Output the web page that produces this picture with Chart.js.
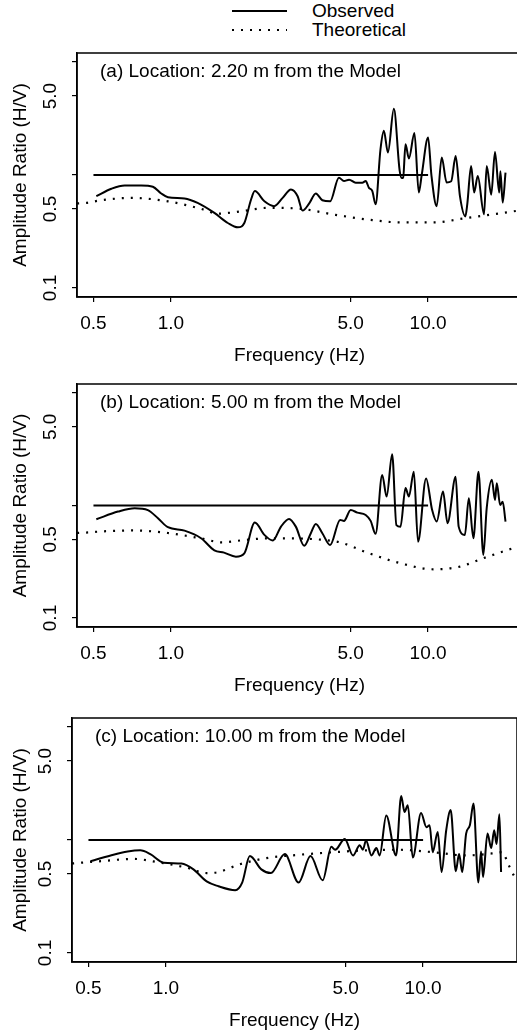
<!DOCTYPE html>
<html>
<head>
<meta charset="utf-8">
<script src="https://cdn.jsdelivr.net/npm/chart.js@4.4.0/dist/chart.umd.min.js"></script>
<style>
  html, body { margin: 0; padding: 0; background: #fff; overflow: hidden; width: 517px; height: 1031px; }
  .panel { position: absolute; left: 0; }
  #legend { position: absolute; left: 0; top: 0; }
  #legend text { font-family: 'Liberation Sans', Arial, Helvetica, sans-serif; font-size: 19px; fill: #000; }
</style>
</head>
<body>
<svg id="legend" width="517" height="45">
  <line x1="232" y1="11" x2="287" y2="11" stroke="#000" stroke-width="1.8"/>
  <line x1="232" y1="30" x2="287" y2="30" stroke="#000" stroke-width="2" stroke-dasharray="2 7"/>
  <text x="312" y="17">Observed</text>
  <text x="312" y="36">Theoretical</text>
</svg>
<canvas class="panel" id="chartA" width="530" height="330" style="top:40px"></canvas>
<canvas class="panel" id="chartB" width="530" height="330" style="top:370px"></canvas>
<canvas class="panel" id="chartC" width="530" height="330" style="top:705px"></canvas>
<script>
// axes
const xTickValues = [0.5, 1, 5, 10];
const xTickLabels = ['0.5', '1.0', '5.0', '10.0'];
const yTickValues = [0.1, 0.5, 1, 5, 10];
const yTickLabels = ['0.1', '0.5', '', '5.0', ''];

// reference level (H/V = 1)
const refFreq = [0.5, 10];
const refAmp = [1.0, 1.0];

// (a) 2.20 m
const obsFreqA = [0.513, 0.587, 0.661, 0.767, 0.851, 0.917, 0.974, 1.13, 1.27, 1.476, 1.665, 1.82, 1.93, 2.05, 2.12, 2.31, 2.52, 2.72, 2.93, 3.11, 3.25, 3.45, 3.66, 3.88, 4.16, 4.5, 4.71, 4.93, 5.23, 5.55, 5.72, 5.89, 6.07, 6.25, 6.53, 6.73, 6.98, 7.36, 7.75, 7.9, 8.0, 8.17, 8.42, 8.85, 9.2, 9.45, 10.0, 10.3, 10.8, 11.3, 11.8, 12.3, 12.8, 13.3, 13.96, 14.2, 14.7, 15.1, 15.6, 16.5, 16.9, 17.6, 18.2, 18.9, 19.1, 19.5, 20.0];
const obsAmpA  = [0.649, 0.755, 0.808, 0.808, 0.787, 0.686, 0.636, 0.62, 0.567, 0.462, 0.376, 0.344, 0.376, 0.607, 0.72, 0.585, 0.53, 0.627, 0.745, 0.649, 0.484, 0.56, 0.686, 0.598, 0.585, 0.946, 0.883, 0.91, 0.854, 0.854, 0.883, 0.77, 0.72, 0.55, 1.69, 2.46, 1.58, 3.85, 1.10, 0.94, 0.95, 1.87, 1.40, 2.35, 0.70, 1.01, 2.15, 1.0, 0.53, 1.43, 0.86, 0.88, 1.47, 0.65, 0.43, 0.55, 1.2, 0.70, 0.98, 0.45, 1.2, 0.67, 1.6, 0.70, 1.08, 0.57, 1.05];
const theoFreqA = [0.432, 0.469, 0.537, 0.70, 0.974, 1.31, 1.52, 1.87, 2.38, 3.2, 4.31, 5.8, 7.81, 10.5, 14.15, 21.5, 23.2];
const theoAmpA  = [0.56, 0.567, 0.598, 0.627, 0.585, 0.502, 0.455, 0.477, 0.512, 0.502, 0.446, 0.404, 0.381, 0.381, 0.417, 0.477, 0.49];

// (b) 5.00 m
const obsFreqB = [0.513, 0.623, 0.723, 0.814, 0.891, 0.974, 1.13, 1.31, 1.476, 1.61, 1.79, 1.93, 2.12, 2.31, 2.49, 2.68, 2.88, 3.06, 3.30, 3.5, 3.66, 3.88, 4.16, 4.55, 4.71, 5.0, 5.31, 5.72, 5.98, 6.25, 6.63, 6.9, 7.25, 7.53, 7.81, 8.17, 8.42, 8.80, 9.14, 9.82, 10.37, 10.8, 11.43, 11.9, 12.8, 13.15, 13.9, 14.4, 15.0, 15.7, 16.4, 16.9, 17.7, 18.2, 18.5, 19.06, 19.5, 20.0];
const obsAmpB  = [0.755, 0.883, 0.946, 0.91, 0.77, 0.641, 0.598, 0.512, 0.40, 0.381, 0.351, 0.376, 0.705, 0.548, 0.488, 0.649, 0.76, 0.649, 0.438, 0.567, 0.686, 0.567, 0.446, 0.745, 0.73, 0.91, 0.865, 0.824, 0.73, 0.56, 1.87, 1.2, 2.85, 0.67, 0.649, 1.43, 1.2, 2.0, 0.477, 1.74, 0.91, 0.72, 1.33, 0.697, 1.8, 0.649, 0.548, 1.16, 0.512, 2.0, 0.364, 0.946, 1.69, 1.12, 1.58, 1.01, 1.08, 0.72];
const theoFreqB = [0.432, 0.469, 0.55, 0.72, 0.97, 1.31, 1.58, 1.88, 2.37, 3.0, 3.7, 4.55, 5.8, 7.8, 10.5, 13.3, 16.4, 21.4, 23.2];
const theoAmpB  = [0.57, 0.575, 0.59, 0.60, 0.57, 0.51, 0.47, 0.49, 0.51, 0.51, 0.50, 0.47, 0.381, 0.307, 0.271, 0.286, 0.34, 0.417, 0.44];

// (c) 10.00 m
const obsFreqC = [0.509, 0.61, 0.71, 0.795, 0.87, 0.98, 1.15, 1.28, 1.44, 1.6, 1.86, 1.98, 2.12, 2.35, 2.56, 2.9, 3.28, 3.65, 4.07, 4.4, 4.55, 4.96, 5.34, 5.67, 5.83, 6.0, 6.3, 6.58, 6.78, 7.19, 7.85, 8.22, 8.47, 8.72, 9.12, 9.82, 10.3, 10.6, 10.9, 11.4, 11.8, 12.3, 12.8, 13.4, 13.8, 14.2, 14.7, 15.2, 15.7, 16.4, 16.8, 17.1, 17.8, 18.4, 18.9, 19.3, 19.8, 20.1];
const obsAmpC  = [0.65, 0.73, 0.79, 0.81, 0.75, 0.63, 0.62, 0.55, 0.43, 0.39, 0.36, 0.42, 0.72, 0.55, 0.51, 0.75, 0.42, 0.72, 0.44, 0.87, 0.82, 1.02, 0.73, 0.9, 0.82, 0.99, 0.73, 0.85, 0.73, 1.65, 0.73, 2.45, 1.77, 2.03, 0.7, 1.73, 1.3, 1.35, 0.78, 1.18, 0.52, 1.22, 1.84, 0.53, 0.75, 0.52, 1.14, 1.35, 2.1, 0.42, 0.79, 0.47, 1.14, 0.85, 1.22, 0.92, 1.69, 0.52];
const theoFreqC = [0.432, 0.47, 0.56, 0.75, 0.95, 1.2, 1.44, 1.6, 1.94, 2.45, 3.3, 4.5, 6.0, 8.05, 10.9, 14.7, 16.5, 18.5, 20.4, 21.3, 22.6, 23.2];
const theoAmpC  = [0.62, 0.63, 0.65, 0.68, 0.63, 0.57, 0.51, 0.52, 0.61, 0.69, 0.74, 0.78, 0.81, 0.82, 0.78, 0.73, 0.74, 0.76, 0.78, 0.63, 0.48, 0.44];

const panelTitles = [
  '(a) Location: 2.20 m from the Model',
  '(b) Location: 5.00 m from the Model',
  '(c) Location: 10.00 m from the Model'
];

const FONT = "'Liberation Sans', Arial, Helvetica, sans-serif";
Chart.defaults.font.family = FONT;
Chart.defaults.font.size = 19;
Chart.defaults.color = '#000';

const toPoints = (xs, ys) => xs.map((x, i) => ({ x: x, y: ys[i] }));

// box around the plot + panel caption
const framePlugin = {
  id: 'frame',
  afterDraw(chart) {
    const a = chart.chartArea, ctx = chart.ctx;
    ctx.save();
    ctx.strokeStyle = '#000';
    ctx.lineWidth = 1.5;
    ctx.strokeRect(a.left, a.top, a.right - a.left, a.bottom - a.top);
    ctx.font = '19px ' + FONT;
    ctx.fillStyle = '#000';
    ctx.textBaseline = 'middle';
    ctx.fillText(chart.options.plugins.frame.caption, a.left + 23, a.top + 19);
    ctx.restore();
  }
};

function makePanel(id, caption, obsF, obsA, theoF, theoA, leftW, padTop, padRight) {
  new Chart(document.getElementById(id), {
    type: 'line',
    data: {
      datasets: [
        { label: 'Observed', data: toPoints(obsF, obsA), borderColor: '#000', borderWidth: 2,
          pointRadius: 0, cubicInterpolationMode: 'monotone', fill: false },
        { label: 'Theoretical', data: toPoints(theoF, theoA), borderColor: '#000', borderWidth: 2.2,
          borderDash: [2, 7], pointRadius: 0, cubicInterpolationMode: 'monotone', fill: false },
        { label: 'ref', data: toPoints(refFreq, refAmp), borderColor: '#000', borderWidth: 1.8,
          pointRadius: 0, fill: false }
      ]
    },
    options: {
      responsive: false,
      animation: false,
      layout: { autoPadding: false, padding: { top: padTop, right: padRight, left: 0, bottom: 0 } },
      plugins: { legend: { display: false }, tooltip: { enabled: false }, frame: { caption: caption } },
      scales: {
        x: {
          type: 'logarithmic', min: 0.4315, max: 23.18, bounds: 'data',
          afterBuildTicks: s => { s.ticks = xTickValues.map(v => ({ value: v })); },
          afterFit: s => { s.height = 73; s.paddingLeft = 0; s.paddingRight = 0; },
          ticks: { autoSkip: false, maxRotation: 0, padding: 10, color: '#000',
                   callback: v => xTickLabels[xTickValues.indexOf(v)] },
          grid: { drawOnChartArea: false, drawTicks: true, tickLength: 5, color: '#000', lineWidth: 1.2 },
          border: { display: true, color: '#000', width: 1.5 },
          title: { display: true, text: 'Frequency (Hz)', color: '#000', padding: { top: 0, bottom: 3 } }
        },
        y: {
          type: 'logarithmic', min: 0.0832, max: 12.02, bounds: 'data',
          afterBuildTicks: s => { s.ticks = yTickValues.map(v => ({ value: v })); },
          afterFit: s => { s.width = leftW; s.paddingTop = 0; s.paddingBottom = 0; },
          ticks: { autoSkip: false, minRotation: 90, maxRotation: 90, crossAlign: 'center', padding: 8, color: '#000',
                   callback: v => yTickLabels[yTickValues.indexOf(v)] },
          grid: { drawOnChartArea: false, drawTicks: true, tickLength: 5, color: '#000', lineWidth: 1.2 },
          border: { display: true, color: '#000', width: 1.5 },
          title: { display: true, text: 'Amplitude Ratio (H/V)', color: '#000', padding: { top: 9, bottom: 0 } }
        }
      }
    },
    plugins: [framePlugin]
  });
}

makePanel('chartA', panelTitles[0], obsFreqA, obsAmpA, theoFreqA, theoAmpA, 77, 13, 8);
makePanel('chartB', panelTitles[1], obsFreqB, obsAmpB, theoFreqB, theoAmpB, 77, 14, 8);
makePanel('chartC', panelTitles[2], obsFreqC, obsAmpC, theoFreqC, theoAmpC, 72, 13, 13);
</script>
</body>
</html>
